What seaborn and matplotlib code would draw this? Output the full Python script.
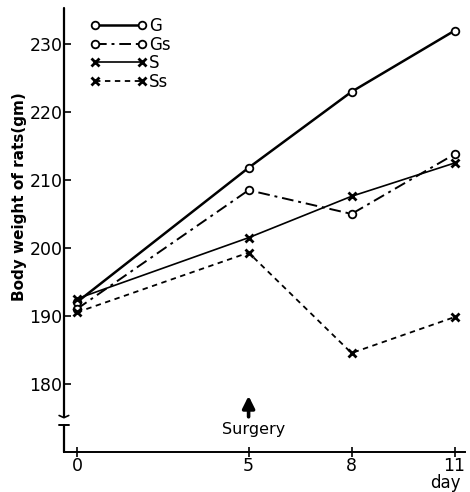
import numpy as np
import pandas as pd
import matplotlib
matplotlib.use("Agg")
import matplotlib.pyplot as plt
import seaborn as sns

# Body weight (g) of rats on each measurement day
days = [0, 5, 8, 11]
weight_G = [192.0, 211.8, 223.0, 232.0]
weight_Gs = [191.0, 208.5, 205.0, 213.8]
weight_S = [192.5, 201.5, 207.6, 212.5]
weight_Ss = [190.5, 199.3, 184.5, 189.8]

series_names = ["G", "Gs", "S", "Ss"]
series_values = [weight_G, weight_Gs, weight_S, weight_Ss]

y_ticks = [180, 190, 200, 210, 220, 230]
x_ticks = [0, 5, 8, 11]

df = pd.DataFrame({
    "day": days * len(series_names),
    "weight": sum(series_values, []),
    "group": [g for g in series_names for _ in days],
})

sns.set_theme(style="white")
plt.rcParams["font.family"] = ["DejaVu Sans"]
plt.rcParams["text.color"] = "black"
plt.rcParams["xtick.color"] = "black"
plt.rcParams["ytick.color"] = "black"
plt.rcParams["axes.labelcolor"] = "black"

fig = plt.figure(figsize=(4.70, 4.92), dpi=100)
ax = fig.add_axes([0.136, 0.081, 0.853, 0.898])

line_styles = {
    "G":  dict(linestyle="-", linewidth=1.8),
    "Gs": dict(linestyle=(0, (6, 2.5, 1.5, 2.5)), linewidth=1.4),
    "S":  dict(linestyle="-", linewidth=1.2),
    "Ss": dict(linestyle=(0, (3, 2.5)), linewidth=1.3),
}
marker_styles = {
    "G":  dict(marker="o", markersize=5.5, markerfacecolor="white",
               markeredgecolor="black", markeredgewidth=1.3),
    "Gs": dict(marker="o", markersize=5.5, markerfacecolor="white",
               markeredgecolor="black", markeredgewidth=1.3),
    "S":  dict(marker="x", markersize=5.5, markeredgecolor="black",
               markeredgewidth=2.0),
    "Ss": dict(marker="x", markersize=5.5, markeredgecolor="black",
               markeredgewidth=2.0),
}

for name in series_names:
    sub = df[df["group"] == name]
    n_before = len(ax.lines)
    sns.lineplot(data=sub, x="day", y="weight", ax=ax, color="black",
                 label=name, legend=False, **line_styles[name])
    line = ax.lines[n_before]
    for key, val in marker_styles[name].items():
        getattr(line, "set_" + key)(val)

ax.set_xlim(-0.38, 11.3)
ax.set_ylim(169.9, 235.0)

ax.set_yticks(y_ticks)
ax.set_yticklabels([str(v) for v in y_ticks], fontsize=12.5)
ax.set_xticks(x_ticks)
ax.set_xticklabels([str(v) for v in x_ticks], fontsize=12.5)
ax.tick_params(axis="y", direction="in", length=5, width=1.2, color="black",
               pad=1, left=True)
ax.tick_params(axis="x", direction="inout", length=7, width=1.2,
               color="black", pad=0, bottom=True)

for side in ["top", "right"]:
    ax.spines[side].set_visible(False)
ax.spines["bottom"].set_color("black")
ax.spines["bottom"].set_linewidth(1.4)
ax.spines["left"].set_visible(False)

# Broken y axis drawn as two segments with small break marks
ax.plot([0, 0], [0, 0.062], transform=ax.transAxes, color="black",
        lw=1.6, clip_on=False)
ax.plot([0, 0], [0.08, 1.005], transform=ax.transAxes, color="black",
        lw=1.6, clip_on=False)
ax.plot([-0.012, 0.0, 0.012], [0.083, 0.078, 0.083], transform=ax.transAxes,
        color="black", lw=1.2, clip_on=False)
ax.plot([-0.012, 0.0, 0.012], [0.062, 0.062, 0.062], transform=ax.transAxes,
        color="black", lw=1.4, clip_on=False)

ax.set_xlabel("")
ax.set_ylabel("Body weight of rats(gm)", fontsize=11, fontweight="bold")
ax.yaxis.set_label_coords(-0.092, 0.579)

ax.text(10.72, -0.05, "day", transform=ax.get_xaxis_transform(),
        fontsize=12, ha="center", va="top")

# Surgery marker
ax.annotate("", xy=(5, 178.6), xytext=(5, 174.7),
            arrowprops=dict(arrowstyle="-|>,head_length=0.6,head_width=0.3",
                            color="black", lw=2.6))
ax.text(5.15, 174.4, "Surgery", fontsize=11.5, ha="center", va="top")

leg = ax.legend(loc="upper left", bbox_to_anchor=(0.065, 0.985),
                frameon=False, fontsize=12, numpoints=2, handlelength=3.4,
                handletextpad=0.15, labelspacing=0.04, borderaxespad=0,
                borderpad=0)

fig.savefig("out.png", dpi=100)
